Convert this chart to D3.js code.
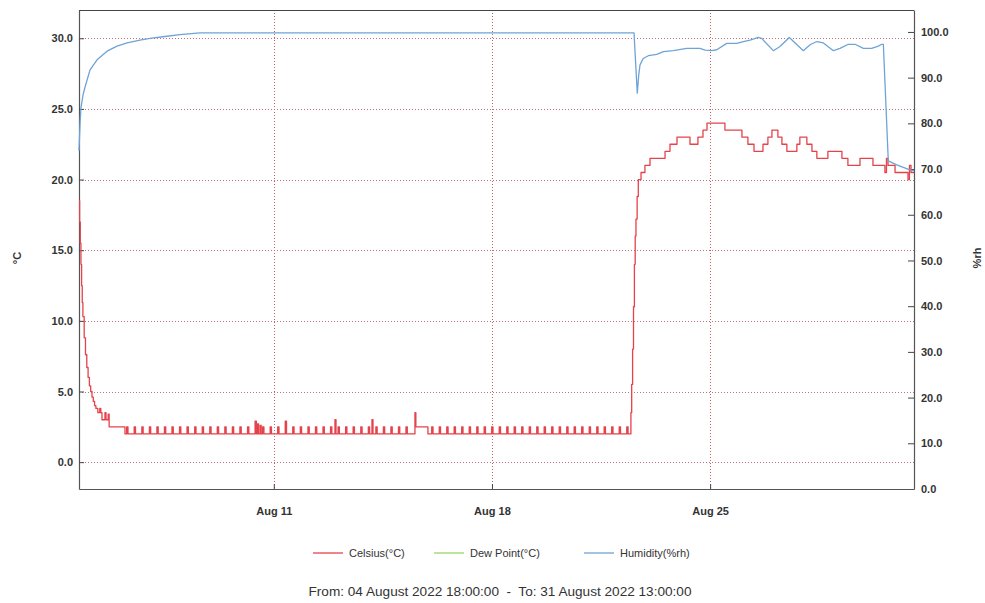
<!DOCTYPE html>
<html>
<head>
<meta charset="utf-8">
<script src="https://cdn.jsdelivr.net/npm/d3@7"></script>
<style>
  html, body { margin: 0; padding: 0; background: #fff; }
  svg { display: block; font-family: "Liberation Sans", Arial, sans-serif; }
</style>
</head>
<body>
<svg id="chart" width="985" height="603"></svg>
<script>
// ---------------- DATA ----------------
const rangeStart = "2022-08-04T18:00:00";
const rangeEnd = "2022-08-31T13:00:00";
const footerText = "From: 04 August 2022 18:00:00  -  To: 31 August 2022 13:00:00";

const xTickDates = ["2022-08-11T00:00:00", "2022-08-18T00:00:00", "2022-08-25T00:00:00"];
const xTickLabels = ["Aug 11", "Aug 18", "Aug 25"];
const leftTicks = [0, 5, 10, 15, 20, 25, 30];
const rightTicks = [0, 10, 20, 30, 40, 50, 60, 70, 80, 90, 100];

const seriesNames = ["Celsius(°C)", "Dew Point(°C)", "Humidity(%rh)"];

// Celsius readings: [hours since start, °C] (step changes)
const celsius = [
  [0,18.5],[0.5,17],[1,15.5],[1.5,14],[2,12.5],[2.5,11.3],[3,10.3],[4,8.8],[5,7.6],[6,6.7],[7,6.0],
  [8,5.4],[9,5.0],[10,4.6],[11,4.3],[12,4.0],[13,3.8],[14.5,3.5],[16,3.8],[16.8,3.5],[17.7,3.0],
  [20,3.5],[20.8,3.0],[22.5,3.4],[23.2,2.5],[35.4,2.0],
  [36.7,2.5],[37.7,2.0],[42.5,2.5],[43.5,2.0],[48.4,2.5],[49.4,2.0],[54.2,2.5],[55.2,2.0],
  [60.0,2.5],[61.0,2.0],[65.8,2.5],[66.8,2.0],[71.6,2.5],[72.6,2.0],[77.4,2.5],[78.4,2.0],
  [83.2,2.5],[84.2,2.0],[89.1,2.5],[90.1,2.0],[94.9,2.5],[95.9,2.0],[100.7,2.5],[101.7,2.0],
  [106.5,2.5],[107.5,2.0],[112.3,2.5],[113.3,2.0],[118.1,2.5],[119.1,2.0],[123.9,2.5],[124.9,2.0],
  [129.8,2.5],[130.8,2.0],[135.6,2.9],[136.6,2.0],[137.5,2.7],[138.3,2.0],[139.5,2.6],[140.3,2.0],
  [141.4,2.5],[142.4,2.0],[147.2,2.5],[148.2,2.0],[153.0,2.5],[154.0,2.0],[158.8,2.9],[159.8,2.0],
  [164.6,2.5],[165.6,2.0],[170.4,2.5],[171.4,2.0],[176.3,2.5],[177.3,2.0],[182.1,2.5],[183.1,2.0],
  [187.9,2.5],[188.9,2.0],[193.7,2.5],[194.7,2.0],[197.1,3.0],[197.9,2.0],[199.5,2.5],[200.5,2.0],
  [205.3,2.5],[206.3,2.0],[211.1,2.5],[212.1,2.0],[217.0,2.5],[218.0,2.0],[222.8,2.5],[223.8,2.0],
  [225.6,3.0],[226.4,2.0],[228.6,2.5],[229.6,2.0],[234.4,2.5],[235.4,2.0],[240.2,2.5],[241.2,2.0],
  [246.0,2.5],[247.0,2.0],[251.8,2.5],[252.8,2.0],[258.7,3.5],[259.4,2.5],[268.7,2.0],
  [271.6,2.5],[272.6,2.0],[277.4,2.5],[278.4,2.0],[283.2,2.5],[284.2,2.0],[288.9,2.5],[289.9,2.0],
  [294.7,2.5],[295.7,2.0],[300.5,2.5],[301.5,2.0],[306.3,2.5],[307.3,2.0],[312.0,2.5],[313.0,2.0],
  [317.8,2.5],[318.8,2.0],[323.6,2.5],[324.6,2.0],[329.4,2.5],[330.4,2.0],[335.1,2.5],[336.1,2.0],
  [340.9,2.5],[341.9,2.0],[346.7,2.5],[347.7,2.0],[352.5,2.5],[353.5,2.0],[358.2,2.5],[359.2,2.0],
  [364.0,2.5],[365.0,2.0],[369.8,2.5],[370.8,2.0],[375.6,2.5],[376.6,2.0],[381.3,2.5],[382.3,2.0],
  [387.1,2.5],[388.1,2.0],[392.9,2.5],[393.9,2.0],[398.7,2.5],[399.7,2.0],[404.4,2.5],[405.4,2.0],
  [410.2,2.5],[411.2,2.0],[416.0,2.5],[417.0,2.0],[421.8,2.5],[422.8,2.0],
  [425.0,3.5],[425.6,5.5],[426.3,8.0],[427.0,11.0],[427.7,14.0],[428.3,16.0],[428.9,17.2],[429.8,18.8],
  [430.7,20.0],[432.8,20.5],[435.8,21.0],[439.7,21.5],[451.3,22.0],[455.1,22.5],[460.5,23.0],
  [470.5,22.5],[476.6,23.0],[480.5,23.5],[483.6,24.0],[497.4,23.5],[510.5,23.0],[515.1,22.5],
  [519.8,22.0],[526.7,22.5],[530.5,23.0],[533.6,23.5],[538.2,23.0],[541.3,22.5],[545.1,22.0],
  [552.8,22.5],[555.1,23.0],[560.5,22.5],[564.4,22.0],[568.2,21.5],[576.7,22.0],[587.5,21.5],
  [592.1,21.0],[601.4,21.5],[611.4,21.0],[620.6,20.5],[621.8,21.5],[623.0,21.0],[628.4,20.5],
  [638.4,20.0],[639.5,21.0],[640.7,20.5],[643,20.5]
];

// Dew point: shown in legend only (no visible trace)
const dewPoint = [];

// Humidity readings: [hours since start, %rh]
const humidity = [
  [0,74],[0.8,80],[1.5,83.4],[3.1,86.2],[4.6,87.9],[8.5,91.7],[13.9,93.9],[21.6,95.8],[29.3,96.9],
  [37,97.6],[47,98.2],[54.7,98.6],[66,99.0],[77.8,99.4],[93,99.8],[427.4,99.8],[429.9,86.6],
  [431.0,90.5],[432.0,92.8],[434.5,94.2],[438.4,94.8],[444.9,95.1],[450.0,95.7],[457.6,95.9],[468.0,96.4],
  [478.2,96.4],[482.1,96.0],[487.2,95.9],[491.1,96.1],[498.8,97.5],[506.5,97.5],[511.6,97.9],
  [516.7,98.2],[523.1,98.8],[525.7,98.6],[534.7,95.9],[539.8,96.8],[547.0,98.8],[557.8,95.9],
  [563.0,97.2],[568.1,97.9],[573.2,97.6],[580.9,95.9],[586.0,96.4],[592.4,97.3],[597.6,97.3],
  [604.0,96.4],[610.4,96.4],[615.5,96.9],[618.1,97.3],[619.4,97.3],[623.2,71.8],[629.7,70.9],
  [639.9,69.8],[643,69.6]
];

// ---------------- CHART ----------------
const colors = { celsius: "#e4434b", dew: "#9ad66a", hum: "#6fa3d6" };
const svg = d3.select("#chart");
const L = 79, R = 914, T = 10, B = 489;

const parse = d3.isoParse;
const t0 = parse(rangeStart);
const toDate = h => new Date(t0.getTime() + h * 3600 * 1000);

const x = d3.scaleTime().domain([t0, parse(rangeEnd)]).range([L, R]);
const yL = d3.scaleLinear().domain([-1.9, 32]).range([B, T]);
const yR = d3.scaleLinear().domain([0, 104.8]).range([B, T]);

// grid lines
const grid = svg.append("g");
grid.selectAll("line.h").data(leftTicks).join("line")
  .attr("x1", L).attr("x2", R)
  .attr("y1", d => Math.round(yL(d)) + 0.5).attr("y2", d => Math.round(yL(d)) + 0.5)
  .attr("stroke", "#b87478").attr("stroke-width", 1).attr("stroke-dasharray", "1,2");
grid.selectAll("line.v").data(xTickDates).join("line")
  .attr("y1", T).attr("y2", B)
  .attr("x1", d => Math.round(x(parse(d))) + 0.5).attr("x2", d => Math.round(x(parse(d))) + 0.5)
  .attr("stroke", "#cc6066").attr("stroke-width", 1).attr("stroke-dasharray", "1,2");

// frame top
svg.append("line").attr("x1", L).attr("x2", R).attr("y1", T + 0.5).attr("y2", T + 0.5)
  .attr("stroke", "#444").attr("stroke-width", 1.2);

// axes
const axisStyle = g => {
  g.select(".domain").attr("stroke", "#555").attr("stroke-width", 1.2);
  g.selectAll(".tick line").attr("stroke", "#444");
  g.selectAll(".tick text").attr("fill", "#333").attr("font-size", "11px").attr("font-weight", "bold");
};

svg.append("g").attr("transform", `translate(${L},0)`)
  .call(d3.axisLeft(yL).tickValues(leftTicks).tickFormat(d3.format(".1f")).tickSizeInner(-5).tickSizeOuter(0).tickPadding(6))
  .call(axisStyle);

svg.append("g").attr("transform", `translate(${R},0)`)
  .call(d3.axisRight(yR).tickValues(rightTicks).tickFormat(d3.format(".1f")).tickSizeInner(-6).tickSizeOuter(0).tickPadding(7))
  .call(axisStyle);

svg.append("g").attr("transform", `translate(0,${B})`)
  .call(d3.axisBottom(x).tickValues(xTickDates.map(parse)).tickFormat((d, i) => xTickLabels[i]).tickSizeInner(-5).tickSizeOuter(0).tickPadding(18))
  .call(axisStyle);

// axis titles
svg.append("text").attr("transform", "translate(21,258) rotate(-90)")
  .attr("text-anchor", "middle").attr("font-size", "11px").attr("font-weight", "bold").attr("fill", "#333").text("°C");
svg.append("text").attr("transform", "translate(981,258) rotate(-90)")
  .attr("text-anchor", "middle").attr("font-size", "11px").attr("font-weight", "bold").attr("fill", "#333").text("%rh");

// lines
const plot = svg.append("g");
plot.append("path").datum(celsius)
  .attr("fill", "none").attr("stroke", colors.celsius).attr("stroke-width", 1.3).attr("stroke-linejoin", "round")
  .attr("d", d3.line().curve(d3.curveStepAfter).x(d => x(toDate(d[0]))).y(d => yL(d[1])));
plot.append("path").datum(dewPoint)
  .attr("fill", "none").attr("stroke", colors.dew).attr("stroke-width", 1.3)
  .attr("d", d3.line().x(d => x(toDate(d[0]))).y(d => yL(d[1])));
plot.append("path").datum(humidity)
  .attr("fill", "none").attr("stroke", colors.hum).attr("stroke-width", 1.3).attr("stroke-linejoin", "round")
  .attr("d", d3.line().x(d => x(toDate(d[0]))).y(d => yR(d[1])));

// legend
const legendItems = [
  { name: seriesNames[0], color: colors.celsius, x: 313 },
  { name: seriesNames[1], color: colors.dew, x: 434 },
  { name: seriesNames[2], color: colors.hum, x: 584 }
];
const lg = svg.append("g").selectAll("g").data(legendItems).join("g")
  .attr("transform", d => `translate(${d.x},553)`);
lg.append("line").attr("x1", 0).attr("x2", 30).attr("y1", 0).attr("y2", 0)
  .attr("stroke", d => d.color).attr("stroke-width", 1.3);
lg.append("text").attr("x", 36).attr("y", 4).attr("font-size", "11px").attr("fill", "#333").text(d => d.name);

// footer
svg.append("text").attr("x", 500).attr("y", 596).attr("text-anchor", "middle")
  .style("white-space", "pre").attr("xml:space", "preserve")
  .attr("font-size", "13.6px").attr("fill", "#333").text(footerText);
</script>
</body>
</html>
